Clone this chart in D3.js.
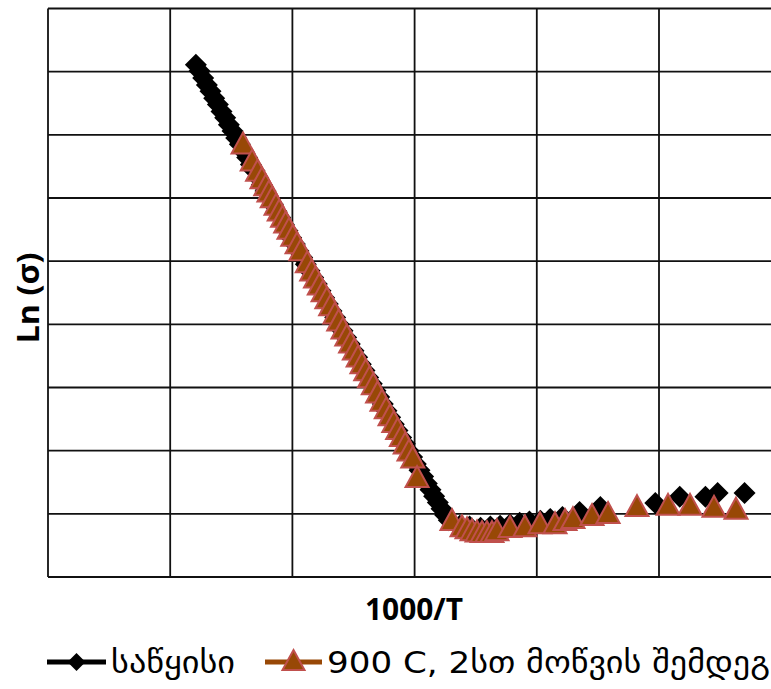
<!DOCTYPE html>
<html>
<head>
<meta charset="utf-8">
<script src="https://cdn.jsdelivr.net/npm/d3@7"></script>
<style>
  body { margin: 0; background: #fff; }
  svg { display: block; }
</style>
</head>
<body>
<div id="chart"></div>
<script>
(function () {
    'use strict'

    // series 1 - initial sample (black diamonds)
    var initX = [2.21, 2.24, 2.27, 2.30, 2.33, 2.36, 2.39, 2.42, 2.45, 2.48, 2.51, 2.54, 2.57, 2.60, 2.63, 2.66,
        2.69, 2.72, 2.75, 2.78, 2.81, 2.84, 2.87, 2.90, 2.93, 2.96, 2.99, 3.02, 3.05, 3.08, 3.11, 3.14, 3.17,
        3.20, 3.23, 3.26, 3.29, 3.32, 3.35, 3.38, 3.41, 3.44, 3.47, 3.50, 3.53, 3.56, 3.59, 3.62, 3.65, 3.68,
        3.71, 3.74, 3.77, 3.80, 3.83, 3.86, 3.89, 3.92, 3.95, 3.98, 4.01, 4.04, 4.07, 4.10, 4.13, 4.16, 4.19,
        4.22, 4.25, 4.28, 4.37, 4.45, 4.54, 4.62, 4.70, 4.78, 4.86, 4.94, 5.03, 5.11, 5.21, 5.35, 5.52, 5.97,
        6.17, 6.38, 6.48, 6.70]
    var initY = [-9.89, -9.99, -10.10, -10.21, -10.31, -10.42, -10.52, -10.63, -10.73, -10.84, -10.94, -11.05,
        -11.15, -11.26, -11.36, -11.47, -11.57, -11.68, -11.79, -11.89, -12.00, -12.10, -12.21, -12.31, -12.42,
        -12.52, -12.63, -12.73, -12.84, -12.94, -13.05, -13.15, -13.26, -13.36, -13.47, -13.58, -13.68, -13.79,
        -13.89, -14.00, -14.10, -14.21, -14.31, -14.42, -14.52, -14.63, -14.73, -14.84, -14.94, -15.05, -15.15,
        -15.26, -15.37, -15.47, -15.58, -15.68, -15.79, -15.89, -16.00, -16.10, -16.21, -16.31, -16.41, -16.52,
        -16.62, -16.72, -16.82, -16.92, -17.02, -17.10, -17.19, -17.20, -17.22, -17.20, -17.19, -17.17, -17.14,
        -17.12, -17.11, -17.08, -17.05, -16.97, -16.89, -16.83, -16.73, -16.73, -16.67, -16.67]

    // series 2 - after 2h annealing at 900 C (brown triangles)
    var annX = [2.596, 2.671, 2.715, 2.751, 2.782, 2.808, 2.835, 2.866, 2.892, 2.919, 2.945, 2.972, 3.003,
        3.038, 3.069, 3.122, 3.158, 3.189, 3.220, 3.251, 3.282, 3.313, 3.348, 3.379, 3.414, 3.445, 3.476,
        3.507, 3.538, 3.569, 3.600, 3.631, 3.662, 3.697, 3.733, 3.768, 3.799, 3.830, 3.861, 3.892, 3.923,
        3.954, 3.985, 4.020, 4.306, 4.388, 4.429, 4.470, 4.511, 4.552, 4.592, 4.633, 4.674, 4.781, 4.903,
        5.026, 5.149, 5.231, 5.296, 5.452, 5.583, 5.820, 6.074, 6.254, 6.450, 6.630]
    var annY = [-11.13, -11.40, -11.56, -11.68, -11.79, -11.89, -11.98, -12.10, -12.19, -12.29, -12.38,
        -12.48, -12.59, -12.71, -12.82, -13.01, -13.14, -13.25, -13.36, -13.47, -13.58, -13.69, -13.82,
        -13.93, -14.06, -14.17, -14.28, -14.39, -14.50, -14.61, -14.72, -14.83, -14.94, -15.07, -15.20,
        -15.32, -15.43, -15.54, -15.65, -15.76, -15.88, -15.99, -16.10, -16.41, -17.09, -17.19, -17.22,
        -17.25, -17.27, -17.28, -17.28, -17.28, -17.25, -17.20, -17.19, -17.14, -17.14, -17.09, -17.06,
        -17.01, -16.98, -16.87, -16.85, -16.85, -16.88, -16.91]

    var xTicks = [1, 2, 3, 4, 5, 6, 7]
    var yTicks = [-18, -17, -16, -15, -14, -13, -12, -11, -10, -9]
    var seriesNames = ['საწყისი', '900 C, 2სთ მოწვის შემდეგ']

    var W = 771, H = 689
    var margin = { top: 8.5, left: 48 }
    var x = d3.scaleLinear().domain([1, 7]).range([margin.left, margin.left + 6 * 122.2])
    var y = d3.scaleLinear().domain([-18, -9]).range([577, margin.top])

    var svg = d3.select('#chart').append('svg')
        .attr('width', W)
        .attr('height', H)

    //Grid
    var grid = svg.append('g').attr('stroke', '#111').attr('stroke-width', 1.8)
    grid.selectAll('.vx').data(xTicks).enter().append('line')
        .attr('x1', function (d) { return x(d) })
        .attr('x2', function (d) { return x(d) })
        .attr('y1', y(-9))
        .attr('y2', y(-18))
    grid.selectAll('.hy').data(yTicks).enter().append('line')
        .attr('x1', x(1))
        .attr('x2', x(7))
        .attr('y1', function (d) { return y(d) })
        .attr('y2', function (d) { return y(d) })

    function diamond(r) {
        return 'M0,' + (-r) + 'L' + r + ',0L0,' + r + 'L' + (-r) + ',0Z'
    }
    function triangle(w, h) {
        return 'M0,' + (-h / 2) + 'L' + (w / 2) + ',' + (h / 2) + 'L' + (-w / 2) + ',' + (h / 2) + 'Z'
    }

    //Markers
    svg.append('g').selectAll('path').data(initX).enter().append('path')
        .attr('d', diamond(11))
        .attr('fill', '#000')
        .attr('transform', function (d, i) { return 'translate(' + x(d) + ',' + y(initY[i]) + ')' })

    svg.append('g').selectAll('path').data(annX).enter().append('path')
        .attr('d', triangle(23, 21))
        .attr('fill', '#984806')
        .attr('stroke', '#c0504d')
        .attr('stroke-width', 2)
        .attr('transform', function (d, i) { return 'translate(' + x(d) + ',' + y(annY[i]) + ')' })

    //Axis titles
    svg.append('text')
        .attr('transform', 'translate(39,298) rotate(-90)')
        .attr('text-anchor', 'middle')
        .style('font-family', 'Open Sans, sans-serif')
        .style('font-weight', 'bold')
        .style('font-size', '30px')
        .attr('textLength', 91)
        .attr('lengthAdjust', 'spacingAndGlyphs')
        .text('Ln (σ)')

    svg.append('text')
        .attr('x', 414)
        .attr('y', 620)
        .attr('text-anchor', 'middle')
        .style('font-family', 'Open Sans, sans-serif')
        .style('font-weight', 'bold')
        .style('font-size', '31px')
        .attr('textLength', 98)
        .attr('lengthAdjust', 'spacingAndGlyphs')
        .text('1000/T')

    //Legend
    var legend = svg.append('g').attr('transform', 'translate(0,662)')
    var items = [
        { x0: 47, x1: 106, tx: 111, tw: 124, color: '#000' },
        { x0: 265, x1: 322, tx: 327, tw: 443, color: '#984806' }
    ]
    items.forEach(function (it, i) {
        legend.append('line')
            .attr('x1', it.x0).attr('x2', it.x1)
            .attr('y1', 0).attr('y2', 0)
            .attr('stroke', it.color)
            .attr('stroke-width', 5)
        var m = legend.append('path')
            .attr('transform', 'translate(' + ((it.x0 + it.x1) / 2) + ',' + (i === 0 ? 0 : -2) + ')')
        if (i === 0) {
            m.attr('d', diamond(9)).attr('fill', '#000')
        } else {
            m.attr('d', triangle(22, 20)).attr('fill', '#984806')
                .attr('stroke', '#c0504d').attr('stroke-width', 2)
        }
        legend.append('text')
            .attr('x', it.tx)
            .attr('y', 11)
            .style('font-family', 'DejaVu Sans, sans-serif')
            .style('font-size', '30px')
            .attr('textLength', it.tw)
            .attr('lengthAdjust', 'spacingAndGlyphs')
            .text(seriesNames[i])
    })
})()
</script>
</body>
</html>
